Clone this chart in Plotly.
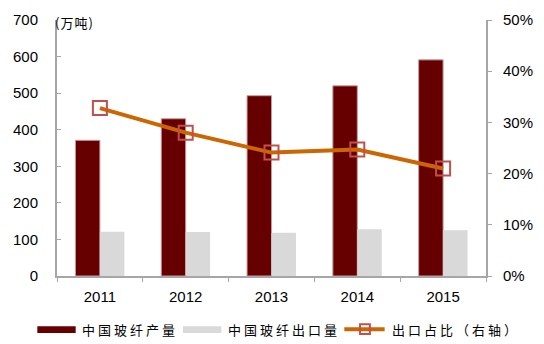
import plotly.graph_objects as go

# Chinese glass fibre output, exports and export share, 2011-2015
years = ["2011", "2012", "2013", "2014", "2015"]
production = [371, 430, 493, 520, 591]      # 万吨
exports = [121, 120, 118, 128, 125]         # 万吨
export_share = [32.8, 28.0, 24.1, 24.7, 21.0]  # %, right axis

left_ticks = [0, 100, 200, 300, 400, 500, 600, 700]
right_ticks = [0, 10, 20, 30, 40, 50]
right_labels = ["0%", "10%", "20%", "30%", "40%", "50%"]

legend_labels = ["中国玻纤产量", "中国玻纤出口量", "出口占比（右轴）"]

C_PROD = "#660000"
C_EXP = "#D9D9D9"
C_LINE = "#CC6600"
C_MARK = "#C0504D"
AXIS = "#A6A6A6"
NUM_FONT = dict(family="Liberation Sans, Arial, sans-serif", size=15, color="#000000")
CJK_FONT = dict(family="Noto Sans CJK SC, sans-serif", size=13, color="#000000")

fig = go.Figure()
fig.add_trace(go.Bar(x=years, y=production, name=legend_labels[0],
                     marker=dict(color=C_PROD, line=dict(color="#C99A9A", width=1))))
fig.add_trace(go.Bar(x=years, y=exports, name=legend_labels[1],
                     marker=dict(color=C_EXP, line=dict(width=0))))
fig.add_trace(go.Scatter(x=years, y=export_share, name=legend_labels[2], yaxis="y2",
                         mode="lines+markers",
                         line=dict(color=C_LINE, width=4),
                         marker=dict(symbol="square-open", size=14,
                                     color=C_MARK, line=dict(color=C_MARK, width=2))))

W, H = 544, 344
L, R, T, B = 57, 51, 11, 68
pw, ph = W - L - R, H - T - B


def px(x):
    return (x - L) / pw


def py(y):
    return (H - B - y) / ph


def spaced(s, gap=3):
    return f'<span style="letter-spacing:{gap}px">{s}</span>'


fig.update_layout(
    width=W, height=H,
    margin=dict(l=L, r=R, t=T, b=B),
    paper_bgcolor="white", plot_bgcolor="white",
    showlegend=False,
    barmode="group", bargap=0.43, bargroupgap=0,
    xaxis=dict(type="category", showline=True, linecolor=AXIS, linewidth=2,
               ticks="outside", tickson="boundaries", ticklen=4, tickcolor=AXIS,
               tickfont=NUM_FONT, ticklabelstandoff=6,
               showgrid=False, zeroline=False),
    yaxis=dict(range=[0, 700], tickvals=left_ticks, showline=True, linecolor=AXIS,
               linewidth=2, ticks="inside", ticklen=4, tickcolor=AXIS,
               tickfont=NUM_FONT, ticklabelstandoff=14,
               showgrid=False, zeroline=False),
    yaxis2=dict(range=[0, 50], tickvals=right_ticks, ticktext=right_labels,
                overlaying="y", side="right", showline=True, linecolor=AXIS,
                linewidth=2, ticks="outside", ticklen=4, tickcolor=AXIS,
                tickfont=NUM_FONT, ticklabelstandoff=8,
                showgrid=False, zeroline=False),
)

# unit label
fig.add_annotation(xref="paper", yref="paper", x=px(53), y=py(14), text=spaced("(万吨)", 1),
                   showarrow=False, xanchor="left", yanchor="middle", font=CJK_FONT)

# legend drawn along the bottom
ly = 331
fig.add_shape(type="rect", xref="paper", yref="paper", x0=px(37), x1=px(76),
              y0=py(335), y1=py(328), fillcolor=C_PROD, line=dict(width=0))
fig.add_annotation(xref="paper", yref="paper", x=px(80), y=py(ly), text=spaced(legend_labels[0]),
                   showarrow=False, xanchor="left", yanchor="middle", font=CJK_FONT)
fig.add_shape(type="rect", xref="paper", yref="paper", x0=px(185), x1=px(224),
              y0=py(335), y1=py(328), fillcolor=C_EXP, line=dict(width=0))
fig.add_annotation(xref="paper", yref="paper", x=px(229), y=py(ly), text=spaced(legend_labels[1]),
                   showarrow=False, xanchor="left", yanchor="middle", font=CJK_FONT)
fig.add_shape(type="line", xref="paper", yref="paper", x0=px(349), x1=px(390),
              y0=py(ly), y1=py(ly), line=dict(color=C_LINE, width=4))
fig.add_shape(type="rect", xref="paper", yref="paper", x0=px(365), x1=px(375),
              y0=py(ly + 5), y1=py(ly - 5), line=dict(color=C_MARK, width=2))
fig.add_annotation(xref="paper", yref="paper", x=px(395), y=py(ly), text=spaced(legend_labels[2]),
                   showarrow=False, xanchor="left", yanchor="middle", font=CJK_FONT)

fig.write_html("out.html")
